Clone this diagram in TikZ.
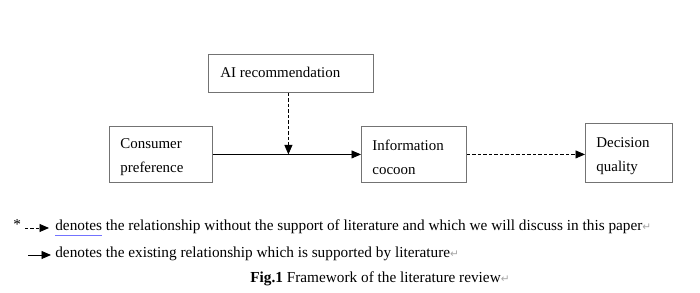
\documentclass[tikz,border=0pt]{standalone}
\usepackage{fontspec}
\setmainfont{Liberation Serif}
\newfontfamily\symfont{DejaVu Sans}
\usetikzlibrary{arrows.meta, positioning}
\newcommand{\retmark}{{\symfont\color{black!35}\fontsize{6}{6}\selectfont ↵}}
\newcommand{\spellword}[1]{{\setbox0\hbox{#1}\rlap{\color{blue!55}\rule[-2.4pt]{\wd0}{0.4pt}}\box0}}
\newcommand{\boxlines}[3][-1.8pt]{\raisebox{#1}[\height][\depth]{\parbox{#2}{#3}}}

\begin{document}
\begin{tikzpicture}[x=0.02cm, y=-0.02cm,
  box/.style={draw=black!55, line width=0.5pt, anchor=north west, inner xsep=0.22cm, font=\fontsize{8.5}{13.6}\selectfont},
  arr/.style={-{Triangle[length=1.9mm, width=1.6mm]}, line width=0.5pt},
  darr/.style={arr, dash pattern=on 0.65mm off 0.45mm},
  note/.style={anchor=base west, inner sep=0pt, font=\fontsize{8.7}{10}\selectfont}]

  \useasboundingbox (0,0) rectangle (700,293);

  % framework boxes
  \node[box, minimum width=3.3cm, minimum height=0.76cm] (ai) at (208,54) {\boxlines[0.4pt]{2.82cm}{AI recommendation}};
  \node[box, minimum width=2.06cm, minimum height=1.12cm] (pref) at (109,126) {\boxlines{1.62cm}{Consumer\\preference}};
  \node[box, minimum width=2.1cm, minimum height=1.12cm] (info) at (361,126) {\boxlines{1.66cm}{Information\\cocoon}};
  \node[box, minimum width=1.74cm, minimum height=1.18cm] (dec) at (585,123) {\boxlines{1.30cm}{Decision\\quality}};

  % relations
  \draw[arr] (pref.east) -- (pref.east -| info.west);
  \path (pref.east) -- coordinate[pos=0.51] (hit) (pref.east -| info.west);
  \draw[darr] (hit |- ai.south) -- (hit);
  \draw[darr] (info.east) -- (info.east -| dec.west);

  % legend
  \node[note] (star) at (13,230) {*};
  \coordinate (d1) at (25,228);
  \coordinate (d2) at (49,228);
  \draw[darr] (d1) -- (d2);
  \node[note] (t1) at (55,231) {\spellword{denotes} the relationship without the support of literature and which we will discuss in this paper\retmark};
  \coordinate (s1) at (28,255);
  \coordinate (s2) at (51,255);
  \draw[arr] (s1) -- (s2);
  \node[note] (t2) at (55,258) {denotes the existing relationship which is supported by literature\retmark};
  \node[note] (cap) at (250,283) {\textbf{Fig.1} Framework of the literature review\retmark};
\end{tikzpicture}
\end{document}
